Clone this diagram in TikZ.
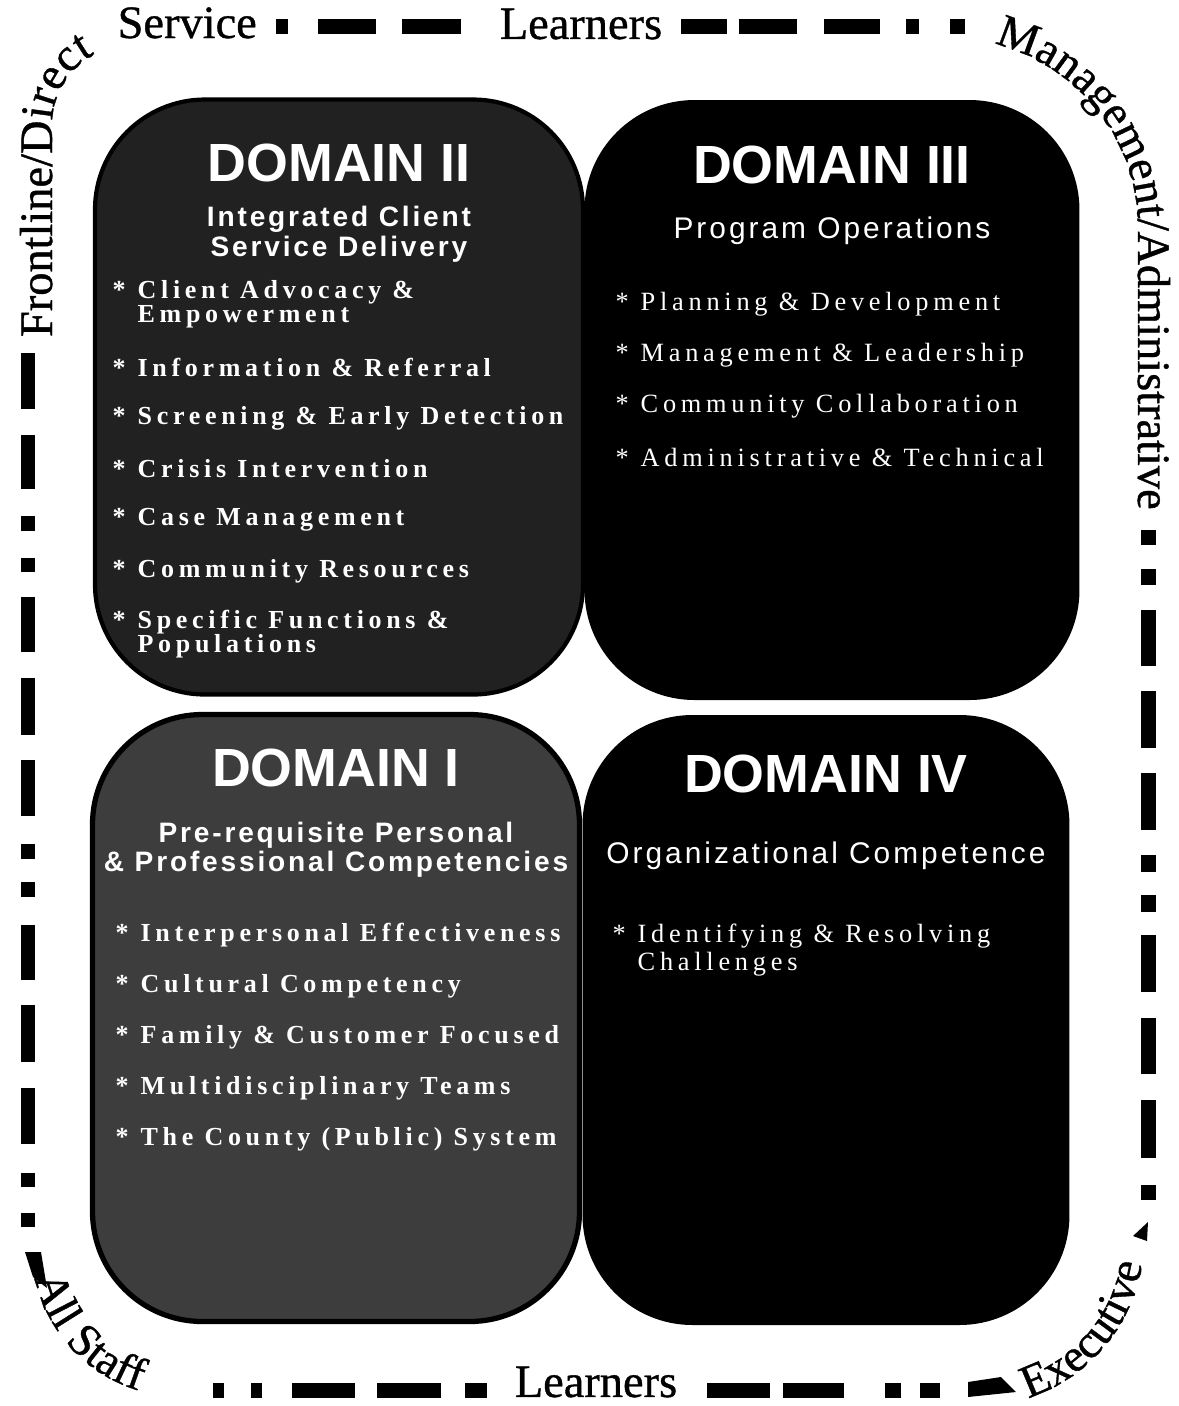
\documentclass[tikz,border=0pt]{standalone}
\usepackage{fontspec}
\setmainfont{Liberation Serif}
\newfontfamily\headfont{Liberation Sans}
\newfontfamily\subfont[LetterSpace=10]{Liberation Sans}
\newfontfamily\itemfont[LetterSpace=18]{Liberation Serif}
\newfontfamily\edgefont[FakeBold=0.8]{Liberation Serif}
\usepackage{tikz}
\usetikzlibrary{positioning,decorations.text}

\newcommand{\rimfont}{\edgefont\fontsize{13.2}{15}\selectfont}
\newcommand{\bul}{\makebox[2.5mm][l]{*}}
\newcommand{\ind}{\hspace*{2.5mm}}

\tikzset{rimtext/.style={decorate, decoration={text along path,
    text format delimiters={|}{|}, text={|\rimfont|#1}}}}

\begin{document}
\begin{tikzpicture}[x=0.1mm, y=-0.1mm]

  \tikzstyle{domainbox}=[rectangle, rounded corners=11mm, inner sep=0pt]
  \tikzstyle{headtext}=[text=white, inner sep=0pt,
                     font=\headfont\bfseries\fontsize{15.3}{18}\selectfont]
  \tikzstyle{subtext}=[text=white, align=center, inner sep=0pt,
                   font=\subfont\fontsize{8.5}{8.8}\selectfont]
  \tikzstyle{subbold}=[font=\subfont\bfseries\fontsize{8.0}{8.4}\selectfont]
  \tikzstyle{itemtext}=[text=white, align=left, anchor=west, inner sep=0pt,
                    font=\itemfont\fontsize{7.5}{6.8}\selectfont]
  \tikzstyle{heavytext}=[font=\itemfont\bfseries\fontsize{7.4}{6.8}\selectfont]
  \tikzstyle{rimline}=[line width=1.5mm]

  \path[use as bounding box, fill=white] (0,0) rectangle (1179,1406);

  % the four domains
  \node[domainbox, fill=black!87, draw=black, line width=1.2pt,
        minimum width=48.8mm, minimum height=59.5mm] (d2) at (339,397) {};
  \node[domainbox, fill=black,
        minimum width=49.5mm, minimum height=60mm]   (d3) at (832,400) {};
  \node[domainbox, fill=black!76, draw=black, line width=1.5pt,
        minimum width=48.7mm, minimum height=60.7mm] (d1) at (336,1018) {};
  \node[domainbox, fill=black,
        minimum width=48.7mm, minimum height=61mm]   (d4) at (826,1020) {};

  \node[headtext, below=6.6mm of d2.north, anchor=center] (t2) {DOMAIN II};
  \node[subtext, subbold, below=7.1mm of t2.center, anchor=center] (s2) {Integrated Client\\Service Delivery};
  \node[headtext, below=6.6mm of d3.north, anchor=center] (t3) {DOMAIN III};
  \node[subtext, below=6.5mm of t3.center, anchor=center] (s3) {Program Operations};
  \node[headtext, below=5.6mm of d1.north, anchor=center] (t1) {DOMAIN I};
  \node[subtext, subbold, below=8.2mm of t1.center, anchor=center] (s1) {Pre-requisite Personal\\\& Professional Competencies};
  \node[headtext, below=6.0mm of d4.north, anchor=center] (t4) {DOMAIN IV};
  \node[subtext, below=8.1mm of t4.center, anchor=center] (s4) {Organizational Competence};

  % domain II list
  \node[itemtext, heavytext] (a1) at (112,304) {\bul Client Advocacy \&\\\ind Empowerment};
  \node[below=6.3mm of a1.west, itemtext, heavytext] (a2) {\bul Information \& Referral};
  \node[below=5.1mm of a2.west, itemtext, heavytext] (a3) {\bul Screening \& Early Detection};
  \node[below=5.1mm of a3.west, itemtext, heavytext] (a4) {\bul Crisis Intervention};
  \node[below=5.1mm of a4.west, itemtext, heavytext] (a5) {\bul Case Management};
  \node[below=5.1mm of a5.west, itemtext, heavytext] (a6) {\bul Community Resources};
  \node[below=6.3mm of a6.west, itemtext, heavytext] (a7) {\bul Specific Functions \&\\\ind Populations};

  % domain III list
  \node[itemtext] (b1) at (615,304) {\bul Planning \& Development};
  \node[below=5.1mm of b1.west, itemtext] (b2) {\bul Management \& Leadership};
  \node[below=5.1mm of b2.west, itemtext] (b3) {\bul Community Collaboration};
  \node[below=5.1mm of b3.west, itemtext] (b4) {\bul Administrative \& Technical};

  % domain I list
  \node[itemtext, heavytext] (c1) at (115,935) {\bul Interpersonal Effectiveness};
  \node[below=5.1mm of c1.west, itemtext, heavytext] (c2) {\bul Cultural Competency};
  \node[below=5.1mm of c2.west, itemtext, heavytext] (c3) {\bul Family \& Customer Focused};
  \node[below=5.1mm of c3.west, itemtext, heavytext] (c4) {\bul Multidisciplinary Teams};
  \node[below=5.1mm of c4.west, itemtext, heavytext] (c5) {\bul The County (Public) System};

  % domain IV list
  \node[itemtext] (e1) at (612,950) {\bul Identifying \& Resolving\\\ind Challenges};

  % learner levels round the edge
  \node[font=\rimfont, anchor=base west, inner sep=0pt] (service) at (117,38) {Service};
  \node[font=\rimfont] (toplearn) at (581,24)   {Learners};
  \node[font=\rimfont] (botlearn) at (596,1382) {Learners};

  \path[rimtext={Frontline/Direct}]
    (52,337) -- (52,125) arc[start angle=180, end angle=270, radius=80];
  \path[rimtext={Management/Administrative}]
    (994,44) arc[start angle=284, end angle=360, radius=190] -- (1138,540);
  \path[rimtext={All Staff}]
    (35,1278) arc[start angle=168, end angle=90, radius=150] -- (240,1396);
  \path[rimtext={Executive}]
    (1028,1398) arc[start angle=72, end angle=-5, radius=168];

  \foreach \a/\b in {276/288, 318/376, 402/461, 681/727, 739/797, 824/880, 906/919, 950/965}
    \draw[rimline] (\a,26) -- (\b,26);
  \foreach \a/\b in {530/545, 569/585, 610/666, 691/748, 773/830, 855/872, 895/912,
                     935/992, 1018/1074, 1100/1158, 1185/1200}
    \draw[rimline] (1148,\a) -- (1148,\b);
  \foreach \a/\b in {353/409, 435/489, 516/531, 558/572, 597/652, 678/735, 760/816,
                     844/859, 882/897, 925/980, 1005/1062, 1088/1144, 1173/1187, 1213/1227}
    \draw[rimline] (28,\a) -- (28,\b);
  \foreach \a/\b in {213/224, 251/262, 292/355, 377/441, 465/487, 707/770, 783/844,
                     885/901, 920/940}
    \draw[rimline] (\a,1390) -- (\b,1390);

  \fill (25,1252) -- (41,1252) -- (47,1288) -- (33,1277) -- cycle;
  \fill (1148,1222) -- (1147,1241) -- (1133,1236) -- cycle;
  \fill (968,1382) -- (1001,1377) -- (1016,1392) -- (968,1397) -- cycle;
\end{tikzpicture}
\end{document}
